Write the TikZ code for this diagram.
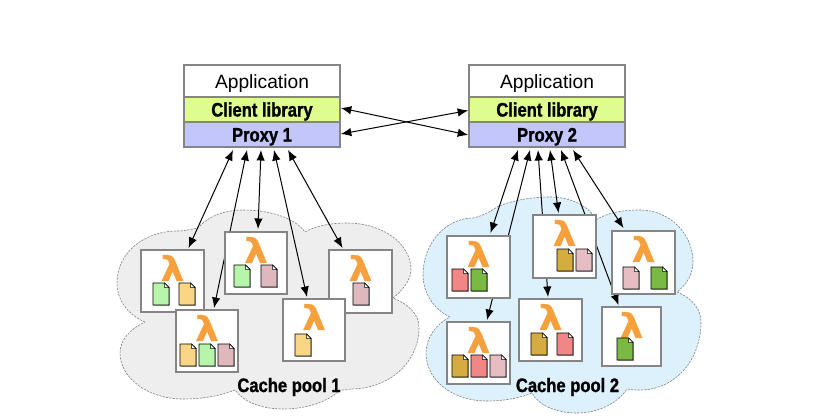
\documentclass[tikz,border=0pt]{standalone}
\usepackage{fontspec}
\setmainfont{Liberation Sans}
\newfontfamily\condf[FakeStretch=0.85,BoldFeatures={FakeBold=1.2}]{Liberation Sans}
\newfontfamily\lamf[FakeStretch=1.1,BoldFeatures={FakeBold=0.6}]{DejaVu Sans}
\usetikzlibrary{arrows.meta}
\pgfdeclarelayer{bg}\pgfdeclarelayer{arr}
\pgfsetlayers{bg,arr,main}
\definecolor{boxgray}{HTML}{858585}
\definecolor{lamorange}{HTML}{F5A03C}
\definecolor{cgreen}{HTML}{B7F5AA}
\definecolor{ctan}{HTML}{F8D686}
\definecolor{cpink}{HTML}{DFB8BE}
\definecolor{cred}{HTML}{F08686}
\definecolor{cdgreen}{HTML}{7AB944}
\definecolor{cochre}{HTML}{D5AC40}
\definecolor{clpink}{HTML}{E5BDC3}
\definecolor{cloudgray}{HTML}{EEEEEE}
\definecolor{cloudblue}{HTML}{DCF1FB}
\definecolor{cliboard}{HTML}{DFFC8E}
\definecolor{proxyc}{HTML}{C3C6FA}
\tikzset{
 layerbox/.style={draw=boxgray,line width=1.9pt,anchor=north west,minimum width=156pt,inner sep=0pt,outer sep=0pt},
 lambox/.style={draw=boxgray,line width=1.7pt,fill=white,anchor=north west,inner sep=0pt,outer sep=0pt},
 lamtext/.style={text=lamorange,font=\lamf\bfseries\fontsize{34}{34}\selectfont,inner sep=0pt},
 heavy/.style={font=\condf\bfseries\fontsize{19.5}{19.5}\selectfont,inner sep=0pt},
 conn/.style={black,line width=1pt,{Latex[length=10.5pt,width=8.5pt]}-{Latex[length=10.5pt,width=8.5pt]}},
 cloudline/.style={draw=gray,line width=0.6pt,dash pattern=on 2.2pt off 1.2pt},
 docshape/.style={draw=black,line width=0.9pt},
}
\newcommand{\lowered}[1]{\raisebox{-7pt}[0pt][0pt]{#1}}
% name, x, y, w, h
\newcommand{\lamnode}[5]{%
 \node[lambox,minimum width=#4pt,minimum height=#5pt] (#1) at (#2,#3) {};
 \node[lamtext] (#1-sym) at ([yshift=-18pt]#1.north) {λ};
}
% x, y, colour
\newcommand{\docu}[3]{%
 \draw[gray!70,line width=0.7pt] (#1+0.8,#2+22.8) -- (#1+16.8,#2+22.8) -- (#1+16.8,#2+5);
 \draw[docshape,fill=#3] (#1,#2) -- (#1+11.5,#2) -- (#1+16,#2+4.5) -- (#1+16,#2+22) -- (#1,#2+22) -- cycle;
 \draw[line width=0.5pt,fill=white] (#1+11.5,#2) -- (#1+11.5,#2+4.5) -- (#1+16,#2+4.5) -- cycle;
}
\begin{document}
\begin{tikzpicture}[x=1pt,y=-1pt]
\useasboundingbox (0,0) rectangle (818,418);
\begin{pgfonlayer}{bg}
\path[cloudline,fill=cloudgray] (145,322)
 .. controls (128,315) and (117,300) .. (117,283)
 .. controls (117,252) and (145,231) .. (177,231)
 .. controls (185,231) and (192,229) .. (198,228)
 .. controls (208,216) and (225,210) .. (243,210)
 .. controls (270,210) and (295,218) .. (305,232)
 .. controls (315,226) and (330,223) .. (347,223)
 .. controls (382,223) and (411,243) .. (411,270)
 .. controls (411,280) and (402,291) .. (393,298)
 .. controls (408,304) and (419,314) .. (419,327)
 .. controls (419,362) and (390,389) .. (350,389)
 .. controls (347,390) and (343,390) .. (340,390)
 .. controls (328,402) and (306,409) .. (283,409)
 .. controls (260,409) and (243,401) .. (235,390)
 .. controls (220,396) and (202,399) .. (183,399)
 .. controls (148,399) and (120,378) .. (120,353)
 .. controls (120,340) and (130,329) .. (145,322) -- cycle;
\path[cloudline,fill=cloudblue] (450,317)
 .. controls (433,309) and (423,292) .. (423,275)
 .. controls (423,243) and (446,218) .. (473,218)
 .. controls (482,216) and (490,212) .. (497,207)
 .. controls (510,201) and (530,197) .. (550,197)
 .. controls (572,197) and (590,207) .. (596,220)
 .. controls (606,213) and (622,210) .. (640,210)
 .. controls (670,210) and (693,234) .. (693,262)
 .. controls (693,275) and (686,285) .. (677,292)
 .. controls (692,298) and (701,309) .. (701,322)
 .. controls (701,360) and (675,390) .. (640,390)
 .. controls (636,390) and (631,390) .. (627,389)
 .. controls (618,403) and (598,413) .. (577,413)
 .. controls (556,413) and (538,405) .. (532,393)
 .. controls (520,398) and (504,401) .. (487,401)
 .. controls (452,401) and (426,380) .. (426,353)
 .. controls (426,338) and (436,324) .. (450,317) -- cycle;
\end{pgfonlayer}
% applications
\node[layerbox,fill=white,minimum height=32pt,font=\fontsize{19.2}{19.2}\selectfont] (app1) at (184,65) {\lowered{Application}};
\node[layerbox,fill=cliboard,minimum height=25pt,heavy] (lib1) at (184,97) {\lowered{Client library}};
\node[layerbox,fill=proxyc,minimum height=25pt,heavy] (proxy1) at (184,122) {\lowered{Proxy 1}};
\node[layerbox,fill=white,minimum height=32pt,font=\fontsize{19.2}{19.2}\selectfont] (app2) at (469,65) {\lowered{Application}};
\node[layerbox,fill=cliboard,minimum height=25pt,heavy] (lib2) at (469,97) {\lowered{Client library}};
\node[layerbox,fill=proxyc,minimum height=25pt,heavy] (proxy2) at (469,122) {\lowered{Proxy 2}};
% pool 1
\lamnode{a1}{141}{250}{63}{62}
\lamnode{e1}{329}{250}{63}{63}
\lamnode{c1}{176}{310}{62}{62}
\lamnode{d1}{283}{299}{62}{62}
\lamnode{b1}{225}{232}{62}{62}
\docu{153}{283}{cgreen}\docu{179}{283}{ctan}
\docu{234}{265}{cgreen}\docu{261}{265}{cpink}
\docu{180}{344}{ctan}\docu{199}{344}{cgreen}\docu{218}{344}{cpink}
\docu{295}{334}{ctan}
\docu{353}{283}{cpink}
% pool 2
\lamnode{f2}{447}{236}{63}{62}
\lamnode{g2}{533}{215}{63}{63}
\lamnode{h2}{612}{231}{63}{63}
\lamnode{i2}{447}{322}{63}{62}
\lamnode{j2}{519}{299}{63}{62}
\lamnode{k2}{602}{307}{59}{59}
\docu{452}{269}{cred}\docu{471}{269}{cdgreen}
\docu{557}{249}{cochre}\docu{576}{249}{clpink}
\docu{623}{267}{clpink}\docu{651}{267}{cdgreen}
\docu{452}{355}{cochre}\docu{471}{355}{cred}\docu{490}{355}{clpink}
\docu{531}{333}{cochre}\docu{557}{333}{cred}
\docu{617}{338}{cdgreen}
% labels
\node[heavy] (pool1) at (289,385) {\lowered{Cache pool 1}};
\node[heavy] (pool2) at (567.5,385) {\lowered{Cache pool 2}};
% connectors
\begin{pgfonlayer}{arr}
\draw[conn] ([xshift=-29pt,yshift=-3pt]proxy1.south) -- ([xshift=16pt,yshift=2pt]a1.north);
\draw[conn] ([xshift=-15pt,yshift=-3pt]proxy1.south) -- ([xshift=7pt,yshift=2pt]c1.north);
\draw[conn] ([xshift=-1pt,yshift=-3pt]proxy1.south) -- ([xshift=2pt,yshift=3pt]b1.north);
\draw[conn] ([xshift=12pt,yshift=-3pt]proxy1.south) -- ([xshift=-7pt,yshift=2pt]d1.north);
\draw[conn] ([xshift=26pt,yshift=-3pt]proxy1.south) -- ([xshift=-18pt,yshift=2pt]e1.north);
\draw[conn] ([xshift=-29pt,yshift=-3pt]proxy2.south) -- ([xshift=12pt,yshift=3pt]f2.north);
\draw[conn] ([xshift=-17pt,yshift=-3pt]proxy2.south) -- ([xshift=8.5pt,yshift=2pt]i2.north);
\draw[conn] ([xshift=-9pt,yshift=-3pt]proxy2.south) -- ([xshift=-2.5pt,yshift=2pt]j2.north);
\draw[conn] ([xshift=3pt,yshift=-3pt]proxy2.south) -- ([xshift=-6pt,yshift=2pt]g2.north);
\draw[conn] ([xshift=14pt,yshift=-3pt]proxy2.south) -- ([xshift=-13pt,yshift=2pt]k2.north);
\draw[conn] ([xshift=26pt,yshift=-3pt]proxy2.south) -- ([xshift=-20pt,yshift=3pt]h2.north);
\draw[conn] ([xshift=0.8pt,yshift=1.5pt]lib1.east) -- ([xshift=-0.8pt,yshift=-0.5pt]proxy2.west);
\draw[conn] ([xshift=0.8pt,yshift=0.5pt]proxy1.east) -- ([xshift=-0.8pt,yshift=-1pt]lib2.west);
\end{pgfonlayer}
\end{tikzpicture}
\end{document}
